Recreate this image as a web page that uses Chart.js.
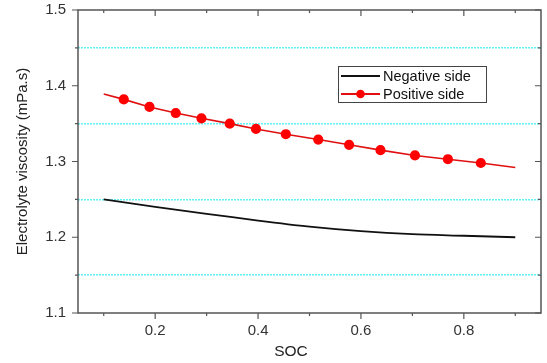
<!DOCTYPE html>
<html>
<head>
<meta charset="utf-8">
<script src="https://cdn.jsdelivr.net/npm/chart.js@4"></script>
<style>
    html, body { margin: 0; padding: 0; background: #fff; }
    #wrap { width: 547px; height: 363px; }
</style>
</head>
<body>
<div id="wrap"><canvas id="viscChart"></canvas></div>
<script>
    // data
    const socNeg = [0.1, 0.2, 0.3, 0.4, 0.5, 0.6, 0.7, 0.8, 0.9];
    const viscNeg = [1.250, 1.240, 1.231, 1.222, 1.214, 1.208, 1.204, 1.202, 1.200];

    const socPos = [0.1, 0.139, 0.189, 0.240, 0.290, 0.345, 0.396, 0.454, 0.517, 0.577, 0.638, 0.705, 0.769, 0.833, 0.9];
    const viscPos = [1.389, 1.382, 1.372, 1.364, 1.357, 1.350, 1.343, 1.336, 1.329, 1.322, 1.315, 1.308, 1.303, 1.298, 1.292];

    const xTicks = [0.1, 0.2, 0.3, 0.4, 0.5, 0.6, 0.7, 0.8, 0.9];
    const yTicks = [1.1, 1.15, 1.2, 1.25, 1.3, 1.35, 1.4, 1.45, 1.5];

    const FONT = 'Liberation Sans, Arial, sans-serif';
    const isMajorX = v => Math.abs(v * 5 - Math.round(v * 5)) < 1e-6;
    const isMajorY = v => Math.abs(v * 10 - Math.round(v * 10)) < 1e-6;

    // frame, in/out tick marks, legend box and x title
    const decorations = {
        id: 'decorations',
        afterDraw(chart) {
            const { ctx, chartArea: a, scales: { x, y } } = chart;
            ctx.save();
            ctx.strokeStyle = '#555';
            ctx.lineWidth = 1.5;
            ctx.strokeRect(a.left, a.top, a.right - a.left, a.bottom - a.top);

            ctx.lineWidth = 1.2;
            ctx.beginPath();
            xTicks.forEach(v => {
                const px = x.getPixelForValue(v);
                const len = isMajorX(v) ? 6 : 3;
                ctx.moveTo(px, a.bottom); ctx.lineTo(px, a.bottom + len);
                ctx.moveTo(px, a.top); ctx.lineTo(px, a.top + len);
            });
            yTicks.forEach(v => {
                const py = y.getPixelForValue(v);
                const len = isMajorY(v) ? 6 : 3;
                ctx.moveTo(a.left - len, py); ctx.lineTo(a.left, py);
                ctx.moveTo(a.right - len, py); ctx.lineTo(a.right, py);
            });
            ctx.stroke();

            // legend
            ctx.lineWidth = 1;
            ctx.strokeStyle = '#444';
            ctx.strokeRect(338.5, 66.5, 148, 36);
            ctx.font = '14.5px ' + FONT;
            ctx.textBaseline = 'middle';
            ctx.fillStyle = '#111';
            const rows = [[76, chart.data.datasets[0]], [94, chart.data.datasets[1]]];
            rows.forEach(([ry, ds]) => {
                ctx.strokeStyle = ds.borderColor;
                ctx.lineWidth = 1.8;
                ctx.beginPath();
                ctx.moveTo(341, ry); ctx.lineTo(380, ry);
                ctx.stroke();
                if (ds.showMarker) {
                    ctx.fillStyle = ds.pointBackgroundColor;
                    ctx.beginPath();
                    ctx.arc(360.5, ry, 4.3, 0, Math.PI * 2);
                    ctx.fill();
                }
                ctx.fillStyle = '#111';
                ctx.fillText(ds.label, 383, ry + 1);
            });

            // x title
            ctx.font = '15.5px ' + FONT;
            ctx.fillStyle = '#222';
            ctx.textAlign = 'center';
            ctx.fillText('SOC', 291, 352);
            ctx.restore();
        }
    };

    const ctx = document.getElementById('viscChart').getContext('2d');
    new Chart(ctx, {
        type: 'line',
        data: {
            datasets: [{
                label: 'Negative side',
                data: socNeg.map((s, i) => ({ x: s, y: viscNeg[i] })),
                borderColor: '#111',
                borderWidth: 1.8,
                pointRadius: 0,
                tension: 0.3,
                fill: false
            }, {
                label: 'Positive side',
                data: socPos.map((s, i) => ({ x: s, y: viscPos[i] })),
                borderColor: '#e01010',
                backgroundColor: '#ff0000',
                pointBackgroundColor: '#ff0000',
                pointBorderColor: '#ff0000',
                pointRadius: c => (c.dataIndex === 0 || c.dataIndex === socPos.length - 1) ? 0 : 4.3,
                showMarker: true,
                borderWidth: 1.6,
                fill: false
            }]
        },
        options: {
            responsive: true,
            maintainAspectRatio: false,
            animation: false,
            layout: { padding: { top: 10, right: 6, left: 0, bottom: 0 } },
            plugins: { legend: { display: false }, tooltip: { enabled: false } },
            scales: {
                x: {
                    type: 'linear',
                    min: 0.05,
                    max: 0.95,
                    afterBuildTicks: s => { s.ticks = xTicks.map(v => ({ value: v })); },
                    afterFit: s => { s.height = 50; s.paddingLeft = 0; s.paddingRight = 0; },
                    grid: { display: false, drawTicks: false },
                    border: { display: false },
                    ticks: {
                        padding: 9,
                        color: '#333',
                        font: { family: FONT, size: 15 },
                        maxRotation: 0,
                        autoSkip: false,
                        callback: v => isMajorX(v) ? v.toFixed(1) : ''
                    }
                },
                y: {
                    min: 1.1,
                    max: 1.5,
                    afterBuildTicks: s => { s.ticks = yTicks.map(v => ({ value: v })); },
                    afterFit: s => { s.width = 78; s.paddingTop = 0; s.paddingBottom = 0; },
                    grid: {
                        drawTicks: false,
                        lineWidth: 1.4,
                        color: c => (c.tick && !isMajorY(c.tick.value)) ? '#5ff2f7' : 'rgba(0,0,0,0)'
                    },
                    border: { display: false, dash: [2, 1] },
                    ticks: {
                        padding: 12,
                        color: '#333',
                        font: { family: FONT, size: 15 },
                        autoSkip: false,
                        callback: v => isMajorY(v) ? v.toFixed(1) : ''
                    },
                    title: {
                        display: true,
                        text: 'Electrolyte viscosity (mPa.s)',
                        color: '#222',
                        font: { family: FONT, size: 15 },
                        padding: { top: 14, bottom: 0 }
                    }
                }
            }
        },
        plugins: [decorations]
    });
</script>
</body>
</html>
